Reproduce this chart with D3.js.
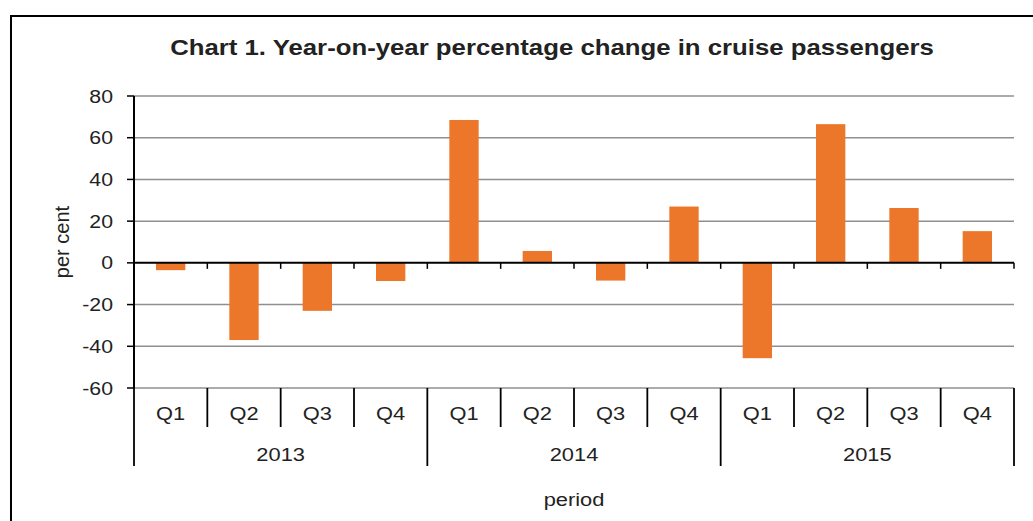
<!DOCTYPE html>
<html><head><meta charset="utf-8">
<script src="https://cdn.jsdelivr.net/npm/d3@7"></script>
<style>body{margin:0;background:#fff}svg{display:block;font-family:"Liberation Sans",Arial,sans-serif}</style>
</head><body><svg id="c" width="1033" height="521"></svg>
<script>
const quarters = ["Q1","Q2","Q3","Q4","Q1","Q2","Q3","Q4","Q1","Q2","Q3","Q4"];
const years = ["2013","2014","2015"];
const values = [-3.5,-37,-23,-8.7,68.5,5.7,-8.5,27,-45.7,66.5,26.3,15.2];
const yTicks = [80,60,40,20,0,-20,-40,-60];

const svg = d3.select("#c");
const L=134, R=1014, T=96, B=388;
const SX = 1.15;
function txt(x, y, s, size, anchor, weight){
  return svg.append("text").attr("transform",`translate(${x},${y}) scale(${SX},1)`)
    .attr("text-anchor",anchor||"middle").attr("font-size",size)
    .attr("font-weight",weight||"normal").attr("fill","#222").text(s);
}
svg.append("rect").attr("x",11).attr("y",16).attr("width",1100).attr("height",600)
  .attr("fill","none").attr("stroke","#000").attr("stroke-width",2);

const idx = d3.range(values.length);
const x = d3.scaleBand().domain(idx).range([L,R]).paddingInner(0.6).paddingOuter(0.3);
const xb = d3.scaleBand().domain(idx).range([L,R]);
const y = d3.scaleLinear().domain([-60,80]).range([B,T]);

// gridlines
svg.append("g").selectAll("line").data(yTicks.filter(d=>d!==0)).join("line")
  .attr("x1",L).attr("x2",R).attr("y1",d=>y(d)).attr("y2",d=>y(d))
  .attr("stroke","#8f8f8f").attr("stroke-width",1.5);

// bars
svg.append("g").selectAll("rect").data(values).join("rect")
  .attr("x",(d,i)=>x(i)).attr("width",x.bandwidth())
  .attr("y",d=>y(Math.max(0,d))).attr("height",d=>Math.abs(y(d)-y(0)))
  .attr("fill","#EC7629");

// y axis
svg.append("line").attr("x1",L).attr("x2",L).attr("y1",T).attr("y2",B).attr("stroke","#000").attr("stroke-width",2);
svg.append("g").selectAll("line").data(yTicks).join("line")
  .attr("x1",L-7).attr("x2",L).attr("y1",d=>y(d)).attr("y2",d=>y(d))
  .attr("stroke","#000").attr("stroke-width",1.5);
yTicks.forEach(d=>txt(113, y(d)+6.5, String(d), 18.5, "end"));

// zero line with ticks
svg.append("line").attr("x1",L).attr("x2",R).attr("y1",y(0)).attr("y2",y(0))
  .attr("stroke","#000").attr("stroke-width",2);
svg.append("g").selectAll("line").data(d3.range(1,values.length+1)).join("line")
  .attr("x1",i=>L+i*xb.bandwidth()).attr("x2",i=>L+i*xb.bandwidth())
  .attr("y1",y(0)).attr("y2",y(0)+6).attr("stroke","#000").attr("stroke-width",1.5);

// category axis
const bw = xb.bandwidth();
svg.append("g").selectAll("line").data(d3.range(0,values.length+1)).join("line")
  .attr("x1",i=>L+i*bw).attr("x2",i=>L+i*bw)
  .attr("y1",B).attr("y2",i=>i%4===0?466:427)
  .attr("stroke","#000").attr("stroke-width",1.8);
quarters.forEach((d,i)=>txt(xb(i)+bw/2, 420, d, 19));
years.forEach((d,i)=>txt(L+(i*4+2)*bw, 461, d, 19));

// labels
txt((L+R)/2, 506, "period", 19);
svg.append("text").attr("transform",`translate(69,${(T+B)/2}) rotate(-90)`).attr("text-anchor","middle")
  .attr("font-size",20).attr("fill","#222").text("per cent");
svg.append("text").attr("transform",`translate(552,55) scale(1.12,1)`).attr("text-anchor","middle")
  .attr("font-size",23).attr("font-weight","bold").attr("fill","#222")
  .text("Chart 1. Year-on-year percentage change in cruise passengers");
</script></body></html>
